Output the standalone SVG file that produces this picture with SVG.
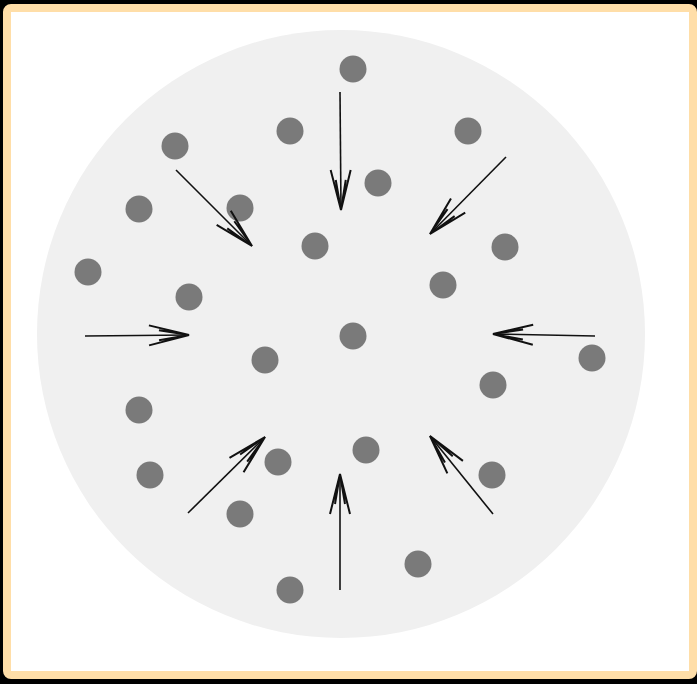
<svg xmlns="http://www.w3.org/2000/svg" width="697" height="684" viewBox="0 0 697 684">
  <style>
    .dot { fill: #7a7a7a; }
    .arrow { stroke: #111; stroke-width: 1.6; fill: none; marker-end: url(#head); }
  </style>
  <defs>
    <marker id="head" markerUnits="userSpaceOnUse" viewBox="-44 -14 48 28" refX="0" refY="0" markerWidth="48" markerHeight="28" orient="auto">
      <path d="M-40,-10 L0,0 L-40,10 M-30,-5 L0,0 L-30,5" stroke="#111" stroke-width="2" fill="none"/>
    </marker>
  </defs>
  <rect x="0" y="0" width="697" height="684" fill="#000"/>
  <rect x="7" y="8" width="686" height="667" rx="4" fill="#fff" stroke="#FFDEA8" stroke-width="8"/>
  <circle id="field" cx="341" cy="334" r="304" fill="#f0f0f0"/>
  <g id="particles">
    <circle id="p1" class="dot" cx="353" cy="69" r="13.5"/>
    <circle id="p2" class="dot" cx="175" cy="146" r="13.5"/>
    <circle id="p3" class="dot" cx="290" cy="131" r="13.5"/>
    <circle id="p4" class="dot" cx="468" cy="131" r="13.5"/>
    <circle id="p5" class="dot" cx="139" cy="209" r="13.5"/>
    <circle id="p6" class="dot" cx="240" cy="208" r="13.5"/>
    <circle id="p7" class="dot" cx="378" cy="183" r="13.5"/>
    <circle id="p8" class="dot" cx="315" cy="246" r="13.5"/>
    <circle id="p9" class="dot" cx="505" cy="247" r="13.5"/>
    <circle id="p10" class="dot" cx="88" cy="272" r="13.5"/>
    <circle id="p11" class="dot" cx="189" cy="297" r="13.5"/>
    <circle id="p12" class="dot" cx="443" cy="285" r="13.5"/>
    <circle id="p13" class="dot" cx="353" cy="336" r="13.5"/>
    <circle id="p14" class="dot" cx="265" cy="360" r="13.5"/>
    <circle id="p15" class="dot" cx="592" cy="358" r="13.5"/>
    <circle id="p16" class="dot" cx="493" cy="385" r="13.5"/>
    <circle id="p17" class="dot" cx="139" cy="410" r="13.5"/>
    <circle id="p18" class="dot" cx="366" cy="450" r="13.5"/>
    <circle id="p19" class="dot" cx="278" cy="462" r="13.5"/>
    <circle id="p20" class="dot" cx="150" cy="475" r="13.5"/>
    <circle id="p21" class="dot" cx="492" cy="475" r="13.5"/>
    <circle id="p22" class="dot" cx="240" cy="514" r="13.5"/>
    <circle id="p23" class="dot" cx="418" cy="564" r="13.5"/>
    <circle id="p24" class="dot" cx="290" cy="590" r="13.5"/>
  </g>
  <g id="arrows">
    <line class="arrow" x1="340" y1="92" x2="341" y2="210"/>
    <line class="arrow" x1="176" y1="170" x2="252" y2="246"/>
    <line class="arrow" x1="506" y1="157" x2="430" y2="234"/>
    <line class="arrow" x1="85" y1="336" x2="189" y2="335"/>
    <line class="arrow" x1="595" y1="336" x2="493" y2="334"/>
    <line class="arrow" x1="188" y1="513" x2="265" y2="437"/>
    <line class="arrow" x1="340" y1="590" x2="340" y2="474"/>
    <line class="arrow" x1="493" y1="514" x2="430" y2="436"/>
  </g>
</svg>
